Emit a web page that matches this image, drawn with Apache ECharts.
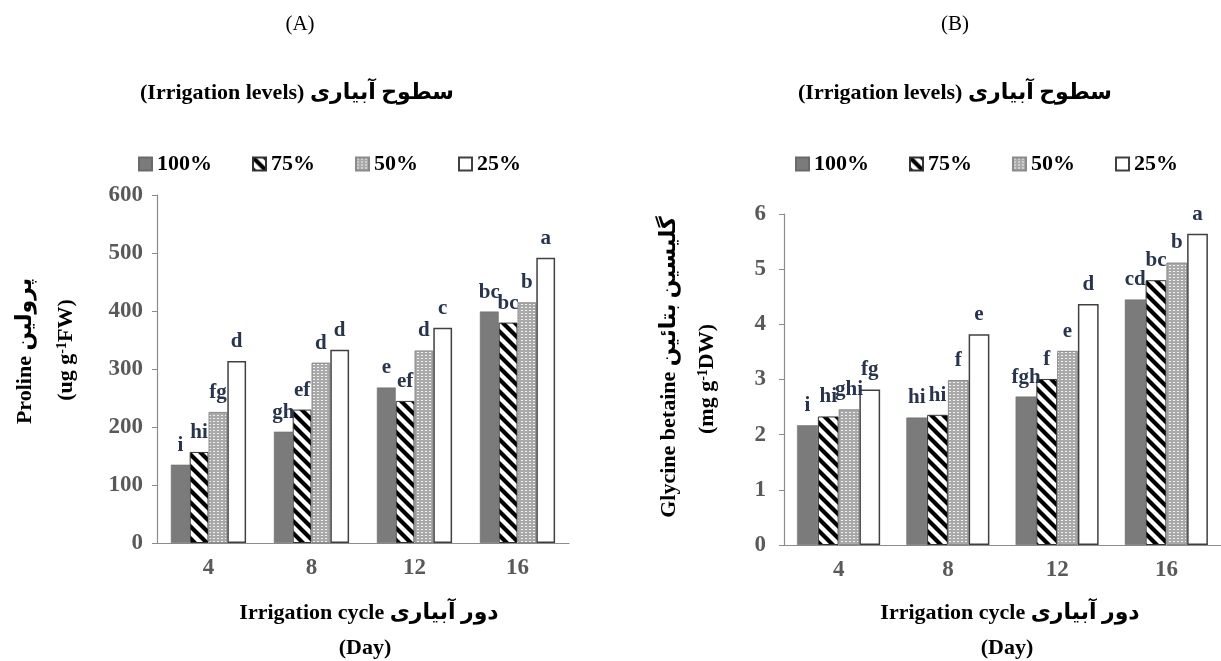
<!DOCTYPE html>
<html>
<head>
<meta charset="utf-8">
<script src="https://cdn.jsdelivr.net/npm/echarts@6/dist/echarts.min.js"></script>
<style>
html,body{margin:0;padding:0;background:#fff;}
#main{width:1221px;height:661px;}
</style>
</head>
<body>
<div id="main"></div>
<script>
var categories = ['4', '8', '12', '16'];
var levels = ['100%', '75%', '50%', '25%'];

// Proline (ug g-1 FW), one array per irrigation level
var proline100 = [135, 192, 268, 399];
var proline75 = [157, 230, 245, 380];
var proline50 = [226, 311, 332, 415];
var proline25 = [314, 333, 371, 492];
var prolineLetters = [
    ['i', 'gh', 'e', 'bc'],
    ['hi', 'ef', 'ef', 'bc'],
    ['fg', 'd', 'd', 'b'],
    ['d', 'd', 'c', 'a']
];

// Glycine betaine (mg g-1 DW)
var betaine100 = [2.17, 2.31, 2.69, 4.45];
var betaine75 = [2.33, 2.36, 3.01, 4.80];
var betaine50 = [2.46, 2.99, 3.52, 5.12];
var betaine25 = [2.82, 3.82, 4.37, 5.64];
var betaineLetters = [
    ['i', 'hi', 'fgh', 'cd'],
    ['hi', 'hi', 'f', 'bc'],
    ['ghi', 'f', 'e', 'b'],
    ['fg', 'e', 'd', 'a']
];

var prolineTicks = [0, 600, 100];   // min, max, interval
var betaineTicks = [0, 6, 1];

var FONT = "'Liberation Serif', 'DejaVu Sans', serif";

function stripeCanvas() {
    var c = document.createElement('canvas');
    c.width = 12; c.height = 12;
    var ctx = c.getContext('2d');
    ctx.fillStyle = '#fff';
    ctx.fillRect(0, 0, 12, 12);
    ctx.strokeStyle = '#000';
    ctx.lineWidth = 4.2;
    ctx.beginPath();
    for (var k = -12; k <= 12; k += 12) {
        ctx.moveTo(k - 2, -2);
        ctx.lineTo(k + 14, 14);
    }
    ctx.stroke();
    return c;
}

function dotCanvas() {
    var c = document.createElement('canvas');
    c.width = 4; c.height = 3;
    var ctx = c.getContext('2d');
    ctx.fillStyle = '#a9a9a9';
    ctx.fillRect(0, 0, 4, 3);
    ctx.fillStyle = '#f2f2f2';
    ctx.fillRect(1, 1, 2, 1);
    return c;
}

var stripes = stripeCanvas();
var dots = dotCanvas();

function levelStyle(i) {
    if (i === 0) return { color: '#7b7b7b', borderColor: '#6a6a6a', borderWidth: 0.5 };
    if (i === 1) return { color: { image: stripes, repeat: 'repeat' }, borderColor: '#333', borderWidth: 1 };
    if (i === 2) return { color: { image: dots, repeat: 'repeat' }, borderColor: '#8a8a8a', borderWidth: 1 };
    return { color: '#fff', borderColor: '#404040', borderWidth: 1.5 };
}

var prolineSets = [proline100, proline75, proline50, proline25];
var betaineSets = [betaine100, betaine75, betaine50, betaine25];

var series = [];
function addSeries(sets, letters, axisIndex, catGap) {
    sets.forEach(function (vals, i) {
        series.push({
            type: 'bar',
            name: levels[i],
            xAxisIndex: axisIndex,
            yAxisIndex: axisIndex,
            data: vals,
            barGap: '0%',
            barCategoryGap: catGap,
            itemStyle: levelStyle(i),
            label: {
                show: true,
                position: 'top',
                distance: 9,
                fontFamily: FONT,
                fontWeight: 'bold',
                fontSize: 21,
                color: '#27344f',
                formatter: function (p) { return letters[i][p.dataIndex]; }
            }
        });
    });
}
addSeries(prolineSets, prolineLetters, 0, '27%');
addSeries(betaineSets, betaineLetters, 1, '24%');

function xAxis(idx) {
    return {
        type: 'category',
        gridIndex: idx,
        data: categories,
        axisLine: { lineStyle: { color: '#8c8c8c', width: 1.2 } },
        axisTick: { alignWithLabel: true, length: 5, lineStyle: { color: '#8c8c8c' } },
        axisLabel: { fontFamily: FONT, fontWeight: 'bold', fontSize: 23, color: '#595959', margin: 14 }
    };
}
function yAxis(idx, t, margin) {
    return {
        type: 'value',
        gridIndex: idx,
        min: t[0], max: t[1], interval: t[2],
        splitLine: { show: false },
        axisLine: { show: true, lineStyle: { color: '#8c8c8c', width: 1.2 } },
        axisTick: { show: true, length: 5, lineStyle: { color: '#8c8c8c' } },
        axisLabel: { fontFamily: FONT, fontWeight: 'bold', fontSize: 23, color: '#595959', margin: margin }
    };
}

function txt(x, y, text, size, weight, rot) {
    return {
        type: 'text',
        x: x, y: y,
        rotation: rot || 0,
        style: {
            text: text,
            fill: '#000',
            fontFamily: FONT,
            fontSize: size,
            fontWeight: weight,
            align: 'center',
            verticalAlign: 'middle',
            rich: {
                sup: { fontFamily: FONT, fontSize: 14, fontWeight: 'bold', fill: '#000', verticalAlign: 'top', padding: [0, 0, 8, 0] }
            }
        }
    };
}

var legendText = { fontFamily: FONT, fontWeight: 'bold', fontSize: 22, color: '#000' };

var option = {
    animation: false,
    backgroundColor: '#fff',
    grid: [
        { left: 157, top: 195, width: 412, height: 348 },
        { left: 784, top: 214, width: 444, height: 331 }
    ],
    legend: [
        { left: 133, top: 148, itemGap: 40, itemWidth: 13, itemHeight: 13, icon: 'rect', data: levels, textStyle: legendText, selectedMode: false },
        { left: 790, top: 148, itemGap: 40, itemWidth: 13, itemHeight: 13, icon: 'rect', data: levels, textStyle: legendText, selectedMode: false }
    ],
    xAxis: [xAxis(0), xAxis(1)],
    yAxis: [yAxis(0, prolineTicks, 14), yAxis(1, betaineTicks, 18)],
    series: series,
    graphic: [
        txt(300, 24, '(A)', 21, 'normal'),
        txt(955, 24, '(B)', 21, 'normal'),
        txt(297, 93, '(Irrigation levels) سطوح آبیاری', 22, 'bold'),
        txt(955, 93, '(Irrigation levels) سطوح آبیاری', 22, 'bold'),
        txt(25, 351, 'Proline پرولین', 22, 'bold', Math.PI / 2),
        txt(66, 350, '(ug g{sup|-1}FW)', 22, 'bold', Math.PI / 2),
        txt(669, 367, 'Glycine betaine گلیسین بتائین', 22, 'bold', Math.PI / 2),
        txt(707, 379, '(mg g{sup|-1}DW)', 22, 'bold', Math.PI / 2),
        txt(369, 613, 'Irrigation cycle دور آبیاری', 22, 'bold'),
        txt(365, 648, '(Day)', 22, 'bold'),
        txt(1010, 613, 'Irrigation cycle دور آبیاری', 22, 'bold'),
        txt(1007, 648, '(Day)', 22, 'bold')
    ]
};

var chart = echarts.init(document.getElementById('main'));
chart.setOption(option);
</script>
</body>
</html>
